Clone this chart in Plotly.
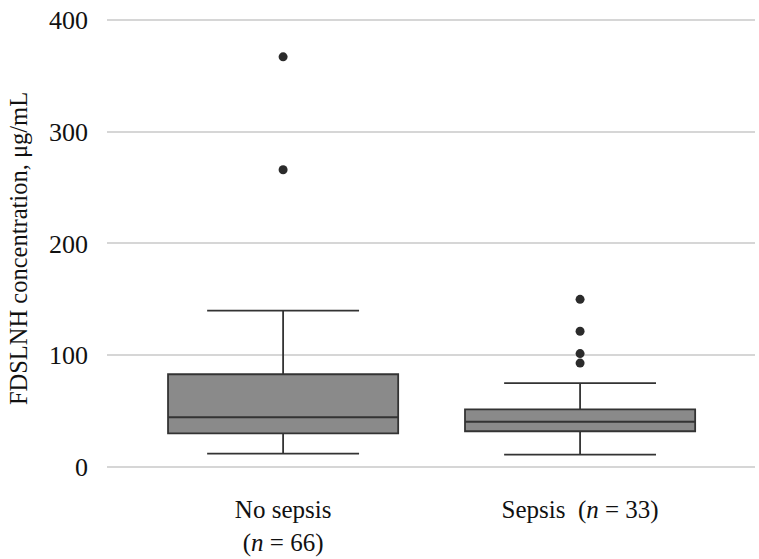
import plotly.graph_objects as go

categories = ["No sepsis<br>(<i>n</i> = 66)", "Sepsis  (<i>n</i> = 33)"]
lower_whisker = [12, 11]
q1 = [30, 32]
median = [44.5, 40.5]
q3 = [83, 51.5]
upper_whisker = [140, 75]
outliers = [[367, 266], [150, 121.5, 101.5, 93]]

y_ticks = [0, 100, 200, 300, 400]

fig = go.Figure()
fig.add_trace(go.Box(
    x=categories,
    q1=q1, median=median, q3=q3,
    lowerfence=lower_whisker, upperfence=upper_whisker,
    fillcolor="#8a8a8a",
    line=dict(color="#333333", width=1.8),
    width=0.775,
    whiskerwidth=0.66,
    boxpoints=False,
    hoverinfo="skip",
    showlegend=False,
))
ox, oy = [], []
for c, vals in zip(categories, outliers):
    for v in vals:
        ox.append(c)
        oy.append(v)
fig.add_trace(go.Scatter(
    x=ox, y=oy, mode="markers",
    marker=dict(color="#2b2b2b", size=9),
    showlegend=False, hoverinfo="skip",
))

font = dict(family="Liberation Serif", size=24, color="#111111")
fig.update_layout(
    width=759, height=559,
    margin=dict(l=107, r=4, t=10, b=72),
    paper_bgcolor="white", plot_bgcolor="white",
    font=font,
    xaxis=dict(
        type="category",
        range=[-0.593, 1.589],
        automargin=False,
        showgrid=False, showline=False, zeroline=False,
        ticks="", ticklabelstandoff=5,
        tickfont=dict(size=25),
    ),
    yaxis=dict(
        range=[-17.9, 408.9],
        automargin=False,
        tickvals=y_ticks,
        showgrid=True, gridcolor="#d6d6d6", gridwidth=1.5,
        zeroline=False, showline=False, ticks="",
        ticklabelstandoff=18,
        tickfont=dict(size=26),
        title=dict(text="FDSLNH concentration, μg/mL", font=dict(size=24.5), standoff=14),
    ),
)

fig.write_html(
    "out.html",
    config={"displayModeBar": False},
    post_script="document.body.style.margin='0';document.body.style.overflow='hidden';",
)
